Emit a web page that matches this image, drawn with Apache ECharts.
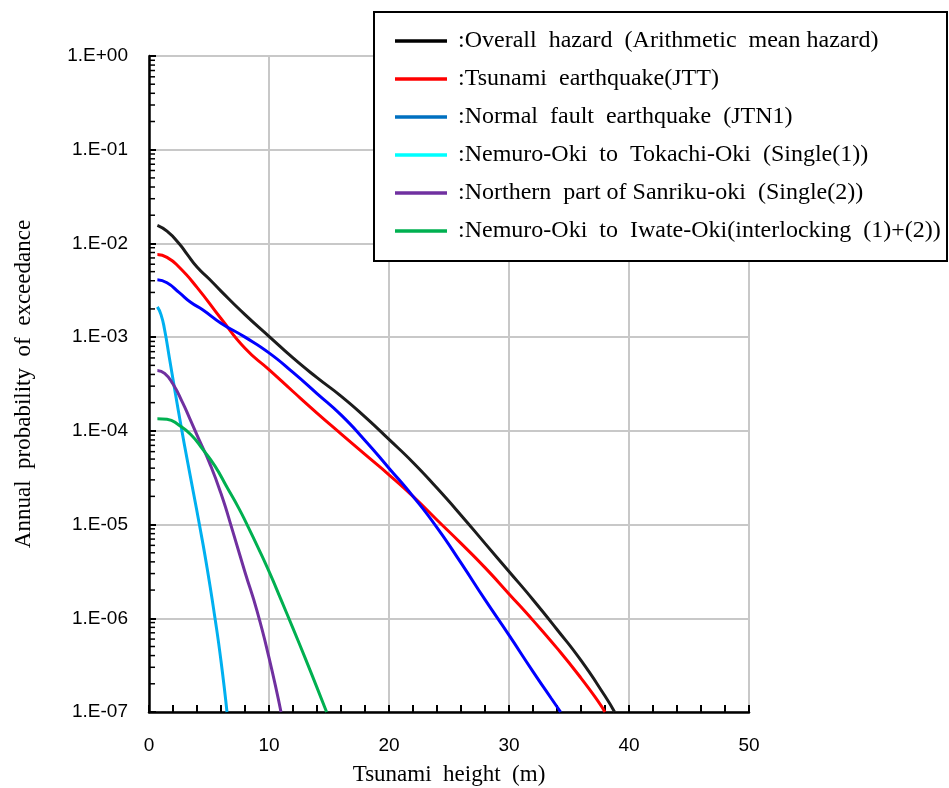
<!DOCTYPE html>
<html>
<head>
<meta charset="utf-8">
<script src="https://cdn.jsdelivr.net/npm/echarts@6/dist/echarts.min.js"></script>
<style>html,body{margin:0;padding:0;background:#fff}#c{width:949px;height:788px}</style>
</head>
<body>
<div id="c"></div>
<script>
// ---- data (Tsunami height m, annual probability of exceedance) ----
const overallH = [0.7, 1.5, 2.5, 3.2, 4, 5, 6, 8, 10, 12, 14, 16, 18, 20, 22, 24, 26, 28, 30, 32, 34, 36, 38, 38.8];
const overallP = [1.56e-2, 1.35e-2, 1.0e-2, 7.6e-3, 5.6e-3, 4.2e-3, 3.1e-3, 1.74e-3, 1.02e-3, 6.0e-4, 3.7e-4, 2.35e-4, 1.41e-4, 8.1e-5, 4.6e-5, 2.45e-5, 1.26e-5, 6.3e-6, 3.16e-6, 1.58e-6, 7.6e-7, 3.55e-7, 1.48e-7, 1.0e-7];

const jttH = [0.7, 1.5, 2.5, 4, 6, 8, 10, 12, 14, 16, 18, 20, 22, 24, 26, 28, 30, 32, 34, 36, 37.5, 38.0];
const jttP = [7.6e-3, 7.1e-3, 5.6e-3, 3.4e-3, 1.58e-3, 7.6e-4, 4.5e-4, 2.63e-4, 1.55e-4, 9.3e-5, 5.6e-5, 3.4e-5, 2.0e-5, 1.12e-5, 6.3e-6, 3.47e-6, 1.82e-6, 9.5e-7, 4.8e-7, 2.3e-7, 1.26e-7, 1.0e-7];

const jtnH = [0.7, 1.5, 2.5, 3.5, 4.5, 6, 8, 10, 12, 14, 16, 18, 20, 22, 24, 26, 28, 30, 32, 33.5, 34.3];
const jtnP = [4.1e-3, 3.8e-3, 3.0e-3, 2.34e-3, 1.95e-3, 1.41e-3, 1.0e-3, 6.8e-4, 4.2e-4, 2.5e-4, 1.48e-4, 7.9e-5, 4.0e-5, 2.0e-5, 9.3e-6, 3.9e-6, 1.58e-6, 6.6e-7, 2.7e-7, 1.41e-7, 1.0e-7];

const single1H = [0.7, 1.0, 1.3, 1.7, 2.2, 2.7, 3.2, 3.7, 4.2, 4.8, 5.5, 6.0, 6.5];
const single1P = [2.1e-3, 1.74e-3, 1.2e-3, 6.0e-4, 2.5e-4, 1.07e-4, 4.8e-5, 2.2e-5, 1.0e-5, 3.7e-6, 1.0e-6, 3.5e-7, 1.0e-7];

const single2H = [0.7, 1.3, 2.0, 2.8, 3.4, 4.2, 5.0, 6.0, 7.0, 8.0, 9.0, 10.0, 11.0];
const single2P = [4.4e-4, 4.1e-4, 3.16e-4, 2.0e-4, 1.35e-4, 7.9e-5, 4.7e-5, 2.14e-5, 8.3e-6, 3.1e-6, 1.2e-6, 3.8e-7, 1.0e-7];

const interH = [0.7, 1.5, 2.5, 3.5, 4.5, 5.5, 6.5, 7.5, 8.25, 9, 10, 11, 12, 13, 14, 14.8];
const interP = [1.35e-4, 1.33e-4, 1.15e-4, 9.1e-5, 6.3e-5, 4.2e-5, 2.5e-5, 1.48e-5, 9.5e-6, 6.0e-6, 3.16e-6, 1.58e-6, 7.8e-7, 3.8e-7, 1.82e-7, 1.0e-7];

const seriesNames = [
  ':Overall  hazard  (Arithmetic  mean hazard)',
  ':Tsunami  earthquake(JTT)',
  ':Normal  fault  earthquake  (JTN1)',
  ':Nemuro-Oki  to  Tokachi-Oki  (Single(1))',
  ':Northern  part of Sanriku-oki  (Single(2))',
  ':Nemuro-Oki  to  Iwate-Oki(interlocking  (1)+(2))'
];
const lineColors = ['#1c1c1c', '#ff0000', '#0000ff', '#00b0f0', '#7030a0', '#00b050'];
const legendColors = ['#000000', '#ff0000', '#0070c0', '#00ffff', '#7030a0', '#00b050'];

const xTickLabels = ['0', '10', '20', '30', '40', '50'];
const yTickLabels = ['1.E-07', '1.E-06', '1.E-05', '1.E-04', '1.E-03', '1.E-02', '1.E-01', '1.E+00'];

// ---- build ----
const pairs = [[overallH, overallP], [jttH, jttP], [jtnH, jtnP], [single1H, single1P], [single2H, single2P], [interH, interP]];
const lineSeries = pairs.map((p, i) => ({
  name: seriesNames[i],
  type: 'line',
  data: p[0].map((h, j) => [h, p[1][j]]),
  symbol: 'none',
  smooth: 0.55,
  lineStyle: { color: lineColors[i], width: 3 },
  itemStyle: { color: lineColors[i] },
  z: 5
}));

// minor log tick positions (axis decoration)
const minorTickValues = [];
for (let e = -7; e < 0; e++) for (let k = 2; k <= 9; k++) minorTickValues.push([0, k * Math.pow(10, e)]);

const chart = echarts.init(document.getElementById('c'));
chart.setOption({
  animation: false,
  backgroundColor: '#fff',
  grid: { left: 149, top: 56, width: 600, height: 656, containLabel: false, outerBoundsMode: 'none' },
  xAxis: {
    type: 'value', min: 0, max: 50, interval: 10,
    name: 'Tsunami  height  (m)', nameLocation: 'middle', nameGap: 51,
    nameTextStyle: { fontFamily: 'Liberation Serif', fontSize: 23, color: '#000' },
    axisLine: { show: true, onZero: false, lineStyle: { color: '#000', width: 2.5 } },
    axisTick: { show: true, inside: true, length: 7, lineStyle: { color: '#000', width: 2 } },
    minorTick: { show: true, splitNumber: 5, length: 7, lineStyle: { color: '#000', width: 2 } },
    axisLabel: { margin: 24, fontFamily: 'Liberation Sans', fontSize: 19, color: '#000',
      formatter: v => xTickLabels[Math.round(v / 10)] },
    splitLine: { show: true, lineStyle: { color: '#c8c8c8', width: 2 } }
  },
  yAxis: {
    type: 'log', logBase: 10, min: 1e-7, max: 1, interval: 1,
    name: 'Annual  probability  of  exceedance', nameLocation: 'middle', nameGap: 114, nameRotate: 90,
    nameTextStyle: { fontFamily: 'Liberation Serif', fontSize: 23, color: '#000' },
    axisLine: { show: true, lineStyle: { color: '#000', width: 2.5 } },
    axisTick: { show: true, inside: true, length: 7, lineStyle: { color: '#000', width: 2 } },
    axisLabel: { margin: 21, fontFamily: 'Liberation Sans', fontSize: 19, color: '#000',
      formatter: v => yTickLabels[Math.round(Math.log10(v)) + 7] },
    splitLine: { show: true, lineStyle: { color: '#c8c8c8', width: 2 } }
  },
  legend: {
    orient: 'vertical', left: 395, top: 29, padding: 0,
    icon: 'rect', itemWidth: 52, itemHeight: 3.5, itemGap: 14, z: 10,
    data: seriesNames.map((n, i) => ({ name: n, itemStyle: { color: legendColors[i], borderWidth: 0 } })),
    textStyle: { fontFamily: 'Liberation Serif', fontSize: 24, lineHeight: 24, color: '#000', padding: [0, 0, 0, 6] }
  },
  graphic: [{
    type: 'rect', z: 9, left: 373, top: 11,
    shape: { width: 573, height: 249 },
    style: { fill: '#fff', stroke: '#000', lineWidth: 2 }
  }],
  series: lineSeries.concat([{
    type: 'custom', name: 'minorTicks', silent: true, z: 6,
    data: minorTickValues,
    renderItem: (params, api) => {
      const p = api.coord([0, api.value(1)]);
      return { type: 'line', shape: { x1: p[0], y1: p[1], x2: p[0] + 6, y2: p[1] }, style: { stroke: '#000', lineWidth: 1.5 } };
    }
  }])
});
</script>
</body>
</html>
